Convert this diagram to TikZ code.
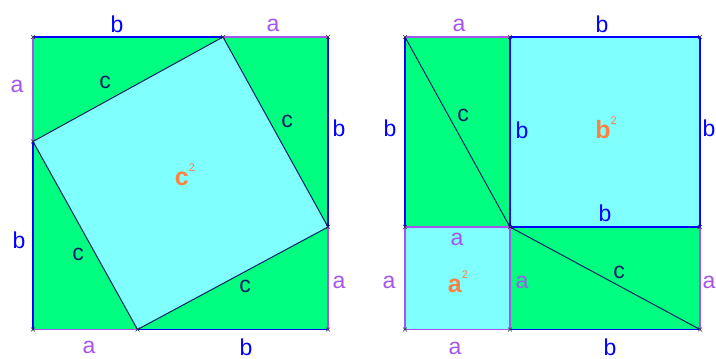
\documentclass[tikz,border=0pt]{standalone}
\usepackage{fontspec}
\setmainfont{Liberation Sans}
\definecolor{grn}{RGB}{0,255,128}
\definecolor{cyn}{RGB}{128,255,255}
\definecolor{bl}{RGB}{0,0,255}
\definecolor{pu}{RGB}{165,85,235}
\definecolor{cl}{RGB}{10,30,100}
\definecolor{orn}{RGB}{255,128,64}
\begin{document}
\begin{tikzpicture}[x=1pt,y=-1pt,
  bedge/.style={draw=bl,line width=1.5pt},
  aedge/.style={draw=pu,line width=1.5pt},
  cedge/.style={draw=cl,line width=1pt},
  lab/.style={font=\fontsize{23}{23}\selectfont,inner sep=0pt},
  blab/.style={lab,text=bl},
  alab/.style={lab,text=pu},
  clab/.style={lab,text=cl},
  sqlab/.style={font=\bfseries\fontsize{25}{25}\selectfont,text=orn,inner sep=0pt},
  ptmark/.style={draw=black!80,line width=0.6pt}]
\newcommand{\sqtwo}{\raisebox{0.55em}{\mdseries\fontsize{11}{11}\selectfont 2}}
\useasboundingbox (0,0) rectangle (716,359);
% left square vertices
\coordinate (LA) at (33,37);
\coordinate (LB) at (328,37);
\coordinate (LC) at (328,329.5);
\coordinate (LD) at (33,329.5);
\coordinate (L1) at (223,37);
\coordinate (L2) at (328,227);
\coordinate (L3) at (137.5,329.5);
\coordinate (L4) at (33,141.5);
% right square vertices
\coordinate (RA) at (405,37);
\coordinate (RM) at (510,37);
\coordinate (RB) at (700,37);
\coordinate (RL) at (405,227);
\coordinate (RC) at (510,227);
\coordinate (RR) at (700,227);
\coordinate (RD) at (405,329.5);
\coordinate (RN) at (510,329.5);
\coordinate (RE) at (700,329.5);
% fills
\fill[grn] (LA) rectangle (LC);
\fill[cyn] (L1) -- (L2) -- (L3) -- (L4) -- cycle;
\fill[grn] (RA) rectangle (RE);
\fill[cyn] (RM) rectangle (RR);
\fill[cyn] (RL) rectangle (RN);
% left edges
\draw[bedge] (LA) -- (L1);
\draw[aedge] (L1) -- (LB);
\draw[bedge] (LB) -- (L2);
\draw[aedge] (L2) -- (LC);
\draw[bedge] (LC) -- (L3);
\draw[aedge] (L3) -- (LD);
\draw[bedge] (LD) -- (L4);
\draw[aedge] (L4) -- (LA);
\draw[cedge] (L1) -- (L2) -- (L3) -- (L4) -- cycle;
% right edges
\draw[aedge] (RA) -- (RM);
\draw[bedge] (RM) -- (RB);
\draw[bedge] (RB) -- (RR);
\draw[aedge] (RR) -- (RE);
\draw[bedge] (RE) -- (RN);
\draw[aedge] (RN) -- (RD);
\draw[aedge] (RD) -- (RL);
\draw[bedge] (RL) -- (RA);
\draw[aedge] (RL) -- (RC);
\draw[bedge] (RC) -- (RR);
\draw[bedge] (RM) -- (RC);
\draw[aedge] (RC) -- (RN);
\draw[cedge] (RA) -- (RC) -- (RE);
% corner marks
\foreach \p in {LA,LB,LC,LD,L1,L2,L3,L4,RA,RM,RB,RL,RC,RR,RD,RN,RE}
  \draw[ptmark] (\p) +(-2,-2) -- +(2,2) +(-2,2) -- +(2,-2);
% left labels
\node[blab] (lbt) at (117,24) {b};
\node[alab] (lat) at (273,25) {a};
\node[alab] (lal) at (17,86) {a};
\node[blab] (lbr) at (339,128) {b};
\node[clab] (lc1) at (105,82) {c};
\node[clab] (lc2) at (287,121) {c};
\node[sqlab] (lc2sq) at (185,175) {c\sqtwo};
\node[blab] (lbl) at (19,240) {b};
\node[clab] (lc3) at (78,254) {c};
\node[clab] (lc4) at (245,286) {c};
\node[alab] (lar) at (339,282) {a};
\node[alab] (lab) at (89,347) {a};
\node[blab] (lbb) at (246,347) {b};
% right labels
\node[alab] (rat) at (459,25) {a};
\node[blab] (rbt) at (602,24) {b};
\node[blab] (rbl) at (390,128) {b};
\node[clab] (rc1) at (463,115) {c};
\node[blab] (rbi) at (522,130) {b};
\node[sqlab] (rb2) at (606,128) {b\sqtwo};
\node[blab] (rbr) at (709,128) {b};
\node[blab] (rbm) at (605,213) {b};
\node[alab] (ram) at (457,239) {a};
\node[alab] (ral) at (389,282) {a};
\node[sqlab] (ra2) at (458,282) {a\sqtwo};
\node[alab] (rai) at (522,282) {a};
\node[clab] (rc2) at (619,272) {c};
\node[alab] (rar) at (709,282) {a};
\node[alab] (rab) at (455,348) {a};
\node[blab] (rbb) at (610,347) {b};
\end{tikzpicture}
\end{document}
